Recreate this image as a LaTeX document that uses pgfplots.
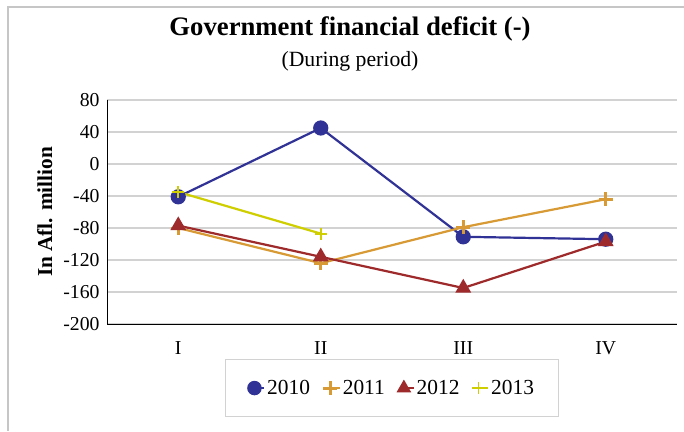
\documentclass[border=0pt]{standalone}
\usepackage{fontspec}
\setmainfont{Liberation Serif}
\usepackage{pgfplots}
\pgfplotsset{compat=1.18}

\definecolor{c2010}{RGB}{48,50,150}
\definecolor{c2011}{RGB}{216,154,52}
\definecolor{c2012}{RGB}{158,42,43}
\definecolor{c2013}{RGB}{206,206,0}
\definecolor{gridc}{RGB}{210,210,210}

\begin{document}
\begin{tikzpicture}[x=1bp,y=1bp]
\useasboundingbox (0,0) rectangle (684,431);
\fill[white] (0,0) rectangle (684,431);
\draw[gray!45, line width=2bp] (8,0) -- (8,424) -- (684,424);

\node[font=\fontsize{26.8}{32}\selectfont\bfseries] at (350,402) {Government financial deficit (-)};
\node[font=\fontsize{21.8}{26}\selectfont] at (350,370) {(During period)};

\begin{axis}[
  at={(107bp,107bp)}, anchor=south west,
  scale only axis,
  width=570bp, height=224bp,
  xmin=-0.5, xmax=3.5,
  ymin=-200, ymax=80,
  xtick={0,1,2,3},
  xticklabels={I,II,III,IV},
  ytick={-200,-160,...,80},
  axis x line=bottom, axis y line=left,
  axis line style={-, black, line width=0.9bp},
  major tick length=0pt,
  ymajorgrids=true,
  grid style={gridc, line width=1.2bp},
  tick label style={font=\fontsize{19.8}{24}\selectfont},
  /pgf/number format/assume math mode=true,
  yticklabel style={xshift=-4bp},
  xticklabel style={yshift=-14bp},
  ylabel={\textbf{In Afl. million}},
  ylabel style={font=\fontsize{21.3}{25}\selectfont, yshift=4bp},
  legend columns=-1,
  legend style={at={(0.5,-0.286)}, anchor=center, draw=gridc, line width=1bp,
    font=\fontsize{21.5}{26}\selectfont, inner xsep=22bp, inner ysep=19bp,
    /tikz/every even column/.append style={column sep=11bp}},
  legend image code/.code={\draw[mark repeat=2, mark phase=1, line width=1.5bp] plot coordinates {(0bp,0bp) (10bp,0bp)};},
  every axis plot/.append style={line width=2.2bp},
  clip=false,
]
\addplot[c2010, mark=*, mark size=6.5bp] coordinates {(0,-41) (1,45) (2,-91) (3,-94)};
\addlegendentry{2010}
\addplot[c2011, mark=+, mark size=7bp, mark options={line width=3bp}] coordinates {(0,-80) (1,-124) (2,-79) (3,-44)};
\addlegendentry{2011}
\addplot[c2012, mark=triangle*, mark size=7bp] coordinates {(0,-77) (1,-116) (2,-155) (3,-97)};
\addlegendentry{2012}
\addplot[c2013, mark=+, mark size=6bp, mark options={line width=1.8bp}] coordinates {(0,-35) (1,-87)};
\addlegendentry{2013}
\end{axis}
\end{tikzpicture}
\end{document}
